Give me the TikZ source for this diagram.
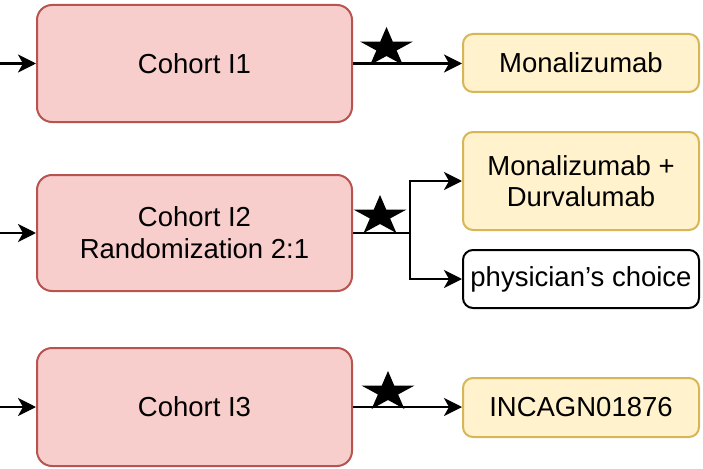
\documentclass[tikz,border=0pt]{standalone}
\usepackage{fontspec}
\setmainfont{Liberation Sans}
\usetikzlibrary{arrows.meta}

\definecolor{cohortfill}{HTML}{F8CECC}
\definecolor{cohortline}{HTML}{B85450}
\definecolor{drugfill}{HTML}{FFF2CC}
\definecolor{drugline}{HTML}{D6B656}

\tikzset{
  cohort/.style={draw=cohortline, fill=cohortfill, line width=2pt,
    rounded corners=15pt, minimum width=315pt, inner sep=0pt, align=center,
    font=\fontsize{27.5}{32}\selectfont},
  drug/.style={draw=drugline, fill=drugfill, line width=2pt,
    rounded corners=10pt, minimum width=236pt, inner sep=0pt, align=center,
    font=\fontsize{27.5}{31}\selectfont},
  choice/.style={drug, draw=black, fill=white},
  flow/.style={line width=2.5pt, -{Stealth[length=18pt,width=18pt,inset=5pt]}},
  % five-pointed star, point up, stretched a little sideways
  starmark/.pic={
    \fill[black, xscale=1.33, yscale=-1]
      (90:21) -- (126:8) -- (162:21) -- (198:8) -- (234:21) --
      (270:8) -- (306:21) -- (342:8) -- (18:21) -- (54:8) -- cycle;
  }
}

\begin{document}
\begin{tikzpicture}[x=1pt,y=-1pt]
  \useasboundingbox (0,0) rectangle (703,468);

  % cohorts
  \node[cohort, minimum height=117pt] (c1) at (194.5,63.5) {Cohort I1};
  \node[cohort, minimum height=116pt] (c2) at (194.5,233) {Cohort I2\\Randomization 2:1};
  \node[cohort, minimum height=118pt] (c3) at (194.5,407) {Cohort I3};

  % treatments
  \node[drug, minimum height=58pt] (m1) at (581,63) {Monalizumab};
  \node[drug, minimum height=98pt] (m2) at (581,181) {Monalizumab +\\Durvalumab};
  \node[choice, minimum height=58pt] (pc) at (581,279) {physician’s choice};
  \node[drug, minimum height=59pt] (inc) at (581,407.5) {INCAGN01876};

  % incoming arrows from the left edge
  \coordinate (in1) at (0,63.5);
  \coordinate (in2) at (0,233);
  \coordinate (in3) at (0,407);
  \draw[flow] (in1) -- (c1.west);
  \draw[flow] (in2) -- (c2.west);
  \draw[flow] (in3) -- (c3.west);

  % outgoing arrows
  \draw[flow] (c1.east) -- (c1.east -| m1.west);
  \draw[flow] (c3.east) -- (c3.east -| inc.west);
  \coordinate (split) at (410,233);
  \draw[line width=2.5pt] (c2.east) -- (split);
  \draw[flow] (split) |- (m2.west);
  \draw[flow] (split) |- (pc.west);

  % stars on the connectors
  \pic at (386.5,48) {starmark};
  \pic at (380,216) {starmark};
  \pic at (388,392) {starmark};
\end{tikzpicture}
\end{document}
